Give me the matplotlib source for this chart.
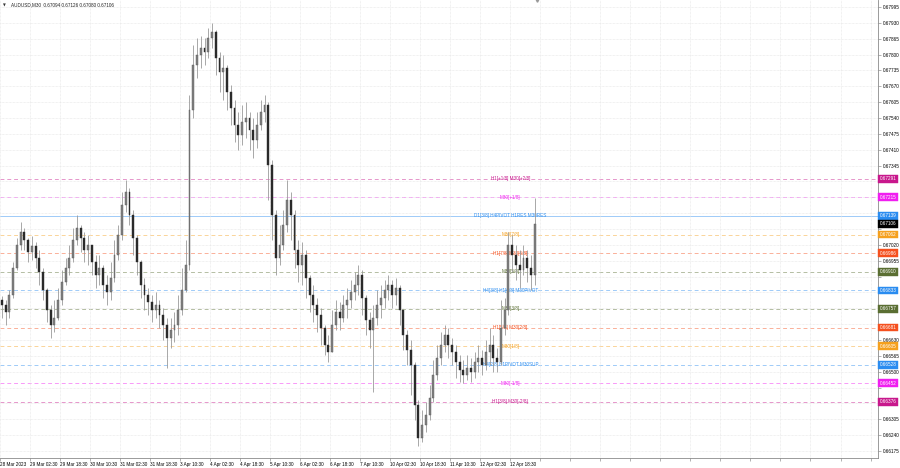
"""
AUDUSD M30 chart with Murrey math levels, redrawn from a MT4 screenshot.
Candles are grouped 4 bars at a time (2 hours) so the path stays readable.
"""
import matplotlib

matplotlib.use("Agg")
import matplotlib.pyplot as plt
import numpy as np

SYMBOL = "AUDUSD,M30"
LAST_OHLC = [0.67094, 0.67126, 0.67080, 0.67106]
BARS_PER_CANDLE = 4
FIRST_OPEN = 0.66794

# 2-hour closes, highs and lows
closes = [
    0.66774, 0.66745, 0.66815, 0.66925, 0.67020, 0.67073, 0.67040, 0.66991, 0.67015, 0.66966,
    0.66909, 0.66835, 0.66753, 0.66692, 0.66720, 0.66794, 0.66868, 0.66925, 0.66966, 0.67040,
    0.67089, 0.67048, 0.66999, 0.67020, 0.66950, 0.66897, 0.66925, 0.66856, 0.66827, 0.66884,
    0.66979, 0.67061, 0.67184, 0.67237, 0.67143, 0.67048, 0.66950, 0.66856, 0.66815, 0.66786,
    0.66753, 0.66774, 0.66733, 0.66692, 0.66638, 0.66671, 0.66692, 0.66753, 0.66835, 0.66938,
    0.67573, 0.67758, 0.67799, 0.67827, 0.67811, 0.67868, 0.67893, 0.67786, 0.67729, 0.67745,
    0.67647, 0.67581, 0.67512, 0.67471, 0.67524, 0.67540, 0.67491, 0.67450, 0.67512, 0.67565,
    0.67594, 0.67348, 0.67143, 0.66966, 0.67020, 0.67102, 0.67204, 0.67143, 0.66999, 0.66938,
    0.66979, 0.66884, 0.66815, 0.66774, 0.66733, 0.66679, 0.66610, 0.66581, 0.66692, 0.66745,
    0.66720, 0.66774, 0.66794, 0.66827, 0.66856, 0.66897, 0.66802, 0.66712, 0.66671, 0.66720,
    0.66774, 0.66802, 0.66835, 0.66856, 0.66815, 0.66843, 0.66753, 0.66651, 0.66589, 0.66528,
    0.66364, 0.66228, 0.66282, 0.66323, 0.66392, 0.66487, 0.66556, 0.66610, 0.66651, 0.66610,
    0.66581, 0.66540, 0.66507, 0.66487, 0.66515, 0.66499, 0.66540, 0.66556, 0.66528, 0.66581,
    0.66610, 0.66556, 0.66540, 0.66679, 0.66753, 0.67020, 0.66979, 0.66938, 0.66917, 0.66966,
    0.66925, 0.66897, 0.67106,
]
highs = [
    0.66810, 0.66794, 0.66835, 0.66950, 0.67048, 0.67114, 0.67089, 0.67048, 0.67056, 0.67032,
    0.66999, 0.66925, 0.66843, 0.66774, 0.66794, 0.66843, 0.66917, 0.66966, 0.67020, 0.67089,
    0.67143, 0.67102, 0.67073, 0.67061, 0.67020, 0.66979, 0.66979, 0.66938, 0.66897, 0.66950,
    0.67040, 0.67102, 0.67237, 0.67286, 0.67253, 0.67163, 0.67061, 0.66958, 0.66884, 0.66843,
    0.66815, 0.66827, 0.66794, 0.66761, 0.66720, 0.66720, 0.66745, 0.66815, 0.66925, 0.67040,
    0.67635, 0.67840, 0.67868, 0.67876, 0.67868, 0.67909, 0.67930, 0.67901, 0.67811, 0.67799,
    0.67758, 0.67676, 0.67614, 0.67565, 0.67594, 0.67606, 0.67565, 0.67540, 0.67565, 0.67614,
    0.67635, 0.67606, 0.67368, 0.67163, 0.67102, 0.67163, 0.67286, 0.67237, 0.67163, 0.67040,
    0.67032, 0.66999, 0.66897, 0.66856, 0.66802, 0.66761, 0.66692, 0.66651, 0.66753, 0.66794,
    0.66786, 0.66815, 0.66843, 0.66876, 0.66909, 0.66938, 0.66917, 0.66815, 0.66745, 0.66774,
    0.66835, 0.66856, 0.66876, 0.66897, 0.66876, 0.66884, 0.66856, 0.66753, 0.66671, 0.66630,
    0.66540, 0.66384, 0.66343, 0.66376, 0.66446, 0.66548, 0.66610, 0.66663, 0.66692, 0.66679,
    0.66638, 0.66610, 0.66569, 0.66548, 0.66569, 0.66556, 0.66581, 0.66610, 0.66589, 0.66630,
    0.66679, 0.66651, 0.66597, 0.66794, 0.66802, 0.67073, 0.67061, 0.67020, 0.66999, 0.67020,
    0.66999, 0.66979, 0.67212,
]
lows = [
    0.66720, 0.66692, 0.66720, 0.66802, 0.66917, 0.66999, 0.66999, 0.66950, 0.66958, 0.66925,
    0.66856, 0.66794, 0.66704, 0.66638, 0.66663, 0.66712, 0.66774, 0.66856, 0.66897, 0.66950,
    0.67020, 0.66991, 0.66950, 0.66938, 0.66897, 0.66843, 0.66856, 0.66802, 0.66774, 0.66794,
    0.66868, 0.66958, 0.67040, 0.67155, 0.67102, 0.66979, 0.66897, 0.66802, 0.66753, 0.66733,
    0.66704, 0.66720, 0.66679, 0.66630, 0.66515, 0.66597, 0.66622, 0.66651, 0.66733, 0.66827,
    0.66917, 0.67540, 0.67704, 0.67745, 0.67758, 0.67786, 0.67827, 0.67717, 0.67647, 0.67614,
    0.67573, 0.67512, 0.67442, 0.67409, 0.67430, 0.67458, 0.67409, 0.67376, 0.67417, 0.67491,
    0.67524, 0.67204, 0.67040, 0.66897, 0.66938, 0.66999, 0.67073, 0.67040, 0.66925, 0.66868,
    0.66856, 0.66802, 0.66745, 0.66704, 0.66663, 0.66610, 0.66569, 0.66540, 0.66597, 0.66671,
    0.66671, 0.66704, 0.66720, 0.66761, 0.66794, 0.66815, 0.66733, 0.66651, 0.66597, 0.66417,
    0.66692, 0.66720, 0.66761, 0.66794, 0.66761, 0.66774, 0.66692, 0.66589, 0.66528, 0.66405,
    0.66302, 0.66195, 0.66212, 0.66253, 0.66302, 0.66376, 0.66466, 0.66528, 0.66581, 0.66556,
    0.66528, 0.66474, 0.66458, 0.66454, 0.66466, 0.66458, 0.66474, 0.66499, 0.66487, 0.66507,
    0.66528, 0.66499, 0.66499, 0.66528, 0.66651, 0.66733, 0.66909, 0.66876, 0.66843, 0.66897,
    0.66868, 0.66835, 0.66856,
]

# time labels every 32 M30 bars
time_labels = [
    "28 Mar 2023", "29 Mar 02:30", "29 Mar 18:30", "30 Mar 10:30", "31 Mar 02:30",
    "31 Mar 18:30", "3 Apr 10:30", "4 Apr 02:30", "4 Apr 18:30", "5 Apr 10:30",
    "6 Apr 02:30", "6 Apr 18:30", "7 Apr 10:30", "10 Apr 02:30", "10 Apr 18:30",
    "11 Apr 10:30", "12 Apr 02:30", "12 Apr 18:30",
]
BARS_PER_LABEL = 32
TOTAL_BARS = 936

price_ticks = [
    0.67995, 0.67930, 0.67865, 0.67800, 0.67735, 0.67670, 0.67605, 0.67540, 0.67475, 0.67410,
    0.67345, 0.67280, 0.67215, 0.67150, 0.67085, 0.67020, 0.66955, 0.66890, 0.66825, 0.66760,
    0.66695, 0.66630, 0.66565, 0.66500, 0.66435, 0.66370, 0.66305, 0.66240, 0.66175,
]

# Murrey math levels
level_prices = [
    0.67291, 0.67215, 0.67139, 0.67062, 0.66986, 0.66910, 0.66833,
    0.66757, 0.66681, 0.66605, 0.66528, 0.66452, 0.66376,
]
level_names = [
    "H1[+1/8] M30[+2/8]", "M30[+1/8]", "D1[3/8] H4PIVOT H1RES M30RES", "M30[7/8]",
    "H1[7/8] M30[6/8]", "M30[5/8]", "H4[3/8] H1[6/8] M30PIVOT", "M30[3/8]",
    "H1[5/8] M30[2/8]", "M30[1/8]", "H4[2/8] H1PIVOT M30SUP", "M30[-1/8]", "H1[3/8] M30[-2/8]",
]
level_colors = [
    "#c8178c", "#f01ef0", "#2a8cf0", "#f5a01e", "#f5501e", "#5a6e32", "#2a8cf0",
    "#5a6e32", "#f5501e", "#f5a01e", "#2a8cf0", "#f01ef0", "#c8178c",
]

FONT = "Liberation Sans"
FS = 3.3


def main():
    fig = plt.figure(figsize=(9, 4.68), dpi=100)
    ax = fig.add_axes([0.0, 0.0214, 0.9756, 0.9786])

    c = np.array(closes)
    o = np.concatenate([[FIRST_OPEN], c[:-1]])
    h = np.maximum(np.array(highs), np.maximum(o, c))
    lo = np.minimum(np.array(lows), np.minimum(o, c))
    x = np.arange(len(c)) * BARS_PER_CANDLE + BARS_PER_CANDLE / 2

    # murrey lines + names
    for p, name, col in zip(level_prices, level_names, level_colors):
        ls = "-" if "D1" in name else (0, (4, 3))
        ax.axhline(p, color=col, lw=0.7, ls=ls, alpha=0.45, zorder=1)
        ax.text(544, p, name, color=col, fontsize=FS, family=FONT,
                ha="center", va="center", zorder=2)

    # candles
    up = c >= o
    ax.vlines(x, lo, h, color="#9a9a9a", lw=0.6, zorder=3)
    ax.bar(x[up], (c - o)[up], bottom=o[up], width=2.0, color="#808080",
           edgecolor="#5a5a5a", lw=0.3, zorder=4)
    ax.bar(x[~up], (o - c)[~up], bottom=c[~up], width=2.0, color="#2a2a2a",
           edgecolor="#2a2a2a", lw=0.3, zorder=4)

    ax.set_xlim(0, TOTAL_BARS)
    ax.set_ylim(0.66146, 0.68024)

    # time axis
    xt = np.arange(0, TOTAL_BARS, BARS_PER_LABEL)
    ax.set_xticks(xt)
    ax.set_xticklabels(time_labels + [""] * (len(xt) - len(time_labels)),
                       fontsize=FS, family=FONT)
    for lbl in ax.get_xticklabels():
        lbl.set_ha("left")
    ax.tick_params(axis="x", length=2, width=0.4, pad=1, color="#777777")

    # price axis; labels hidden where a level box sits on top of them
    boxed = level_prices + [LAST_OHLC[3]]
    ax.yaxis.tick_right()
    ax.set_yticks(price_ticks)
    ax.set_yticklabels(
        ["" if min(abs(p - b) for b in boxed) < 0.00022 else f"{p:.5f}" for p in price_ticks],
        fontsize=FS, family=FONT)
    ax.tick_params(axis="y", length=2, width=0.4, pad=1.5, color="#777777")

    ax.grid(True, color="#e4e4e4", lw=0.5, ls=(0, (1, 1)), zorder=0)
    for side in ["top", "left"]:
        ax.spines[side].set_visible(False)
    for side in ["right", "bottom"]:
        ax.spines[side].set_color("#8a8a8a")
        ax.spines[side].set_linewidth(0.6)

    # price boxes on the right axis
    tr = ax.get_yaxis_transform()
    for p, col in zip(level_prices, level_colors):
        ax.text(1.002, p, f"{p:.5f}", transform=tr, fontsize=FS, family=FONT,
                color="white", ha="left", va="center", clip_on=False, zorder=6,
                bbox=dict(boxstyle="square,pad=0.3", fc=col, ec=col, lw=0.3))
    ax.text(1.002, LAST_OHLC[3], f"{LAST_OHLC[3]:.5f}", transform=tr, fontsize=FS,
            family=FONT, color="white", ha="left", va="center", clip_on=False, zorder=7,
            bbox=dict(boxstyle="square,pad=0.3", fc="black", ec="black", lw=0.3))

    # chart shift marker
    ax.plot([len(c) * BARS_PER_CANDLE], [0.68024], marker="v", ms=2.5,
            color="#999999", clip_on=False, zorder=8)

    # header
    fig.text(0.003, 0.989, "\u25bc", fontsize=2.6, va="center", color="#333333")
    header = SYMBOL + "  " + " ".join(f"{v:.5f}" for v in LAST_OHLC)
    fig.text(0.012, 0.989, header, fontsize=FS, family=FONT, va="center", color="#222222")

    fig.savefig("out.png", dpi=100, facecolor="white")


if __name__ == "__main__":
    main()
